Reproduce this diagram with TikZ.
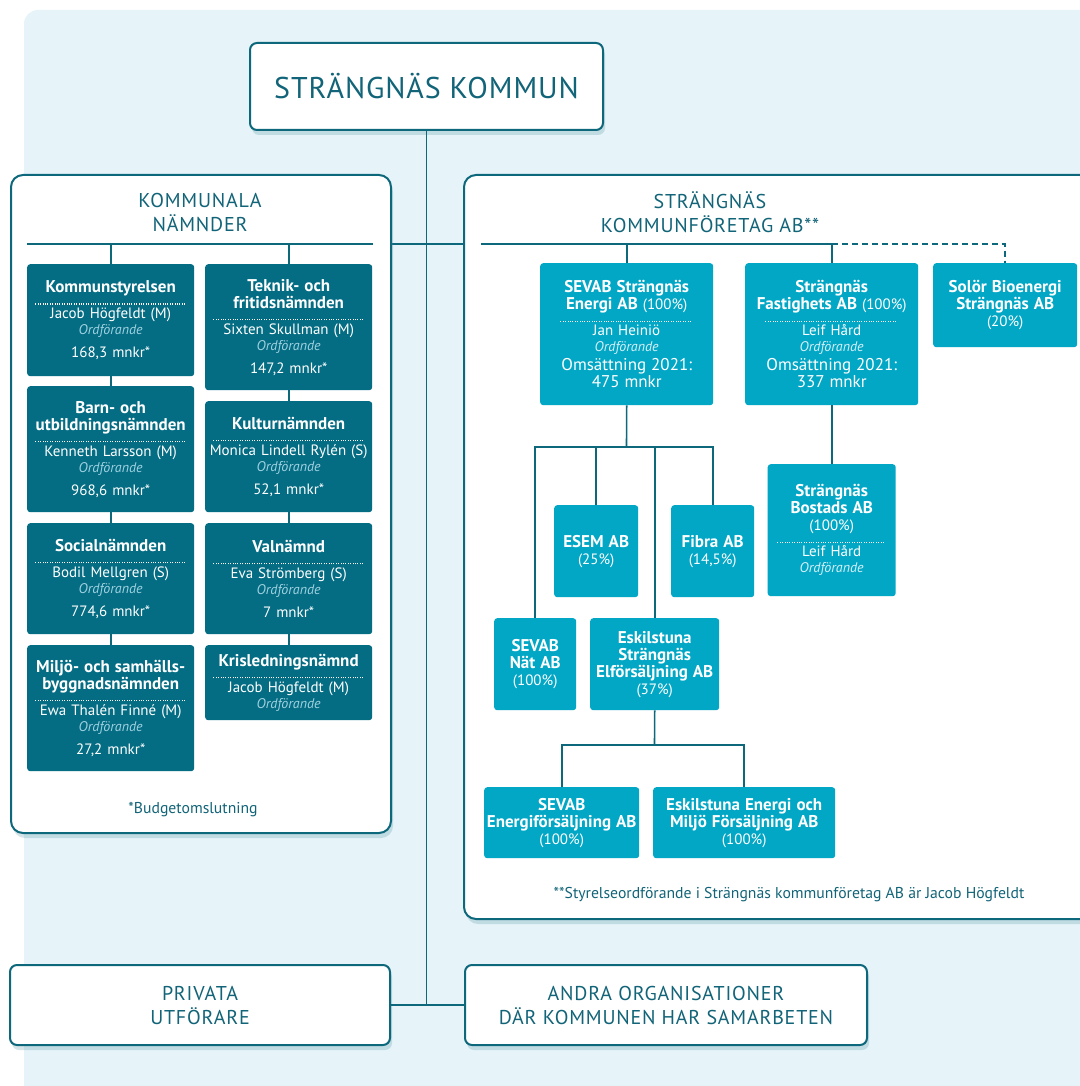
\documentclass[tikz,border=0pt]{standalone}
\usepackage{fontspec}
\setmainfont{PT Sans}
\usetikzlibrary{shadows}

\definecolor{bgblue}{RGB}{230,243,249}
\definecolor{linec}{RGB}{14,104,124}
\definecolor{nteal}{RGB}{4,108,131}
\definecolor{fteal}{RGB}{2,167,198}
\definecolor{ordc}{RGB}{160,210,225}
\definecolor{ordl}{RGB}{215,240,246}
\definecolor{txt}{RGB}{18,100,120}

\newcommand{\boxfont}{\fontsize{15}{17}\selectfont}
\newcommand{\head}[1]{{\fontsize{17}{17}\selectfont\textbf{#1}}}
\newcommand{\ordf}{{\itshape\color{ordc}\fontsize{14}{17}\selectfont Ordförande}}
\newcommand{\ordfl}{{\itshape\color{ordl}\fontsize{14}{17}\selectfont Ordförande}}
\newcommand{\dotrule}[1][152pt]{\leavevmode\hbox to #1{\leaders\hbox to 2.4pt{\hss\rule{1.1pt}{1.1pt}\hss}\hfill}}
\newcommand{\caps}{\addfontfeature{LetterSpace=4}}

\tikzset{
    link/.style={draw=linec, line width=1.6pt}, % the connecting lines
    panel/.style={draw=linec, line width=2pt, fill=white, rounded corners=12pt, anchor=north west,
        drop shadow={shadow xshift=2pt, shadow yshift=-5pt, opacity=.25, fill=linec!70}}, % white frames
    whitebox/.style={panel, rounded corners=7pt, anchor=center, align=center, text=txt}, % white boxes with a title
    nbox/.style={fill=nteal, text=white, rounded corners=3pt, anchor=north west, align=center,
        text width=160pt, inner xsep=3.5pt, inner ysep=3pt, font=\boxfont}, % boards
    fbox/.style={fill=fteal, text=white, rounded corners=3pt, anchor=north west, align=center,
        inner xsep=1pt, inner ysep=3pt, font=\boxfont}, % companies
    titlefont/.style={font=\fontsize{20}{24}\selectfont\caps},
    note/.style={text=txt, font=\fontsize{15.7}{17}\selectfont},
}

\begin{document}
\begin{tikzpicture}[x=1pt, y=-1pt]
\useasboundingbox (0,0) rectangle (1079,1086);
\fill[white] (0,0) rectangle (1079,1086);
\fill[bgblue, rounded corners=14pt] (24,10) rectangle (1110,1110);

% top level
\node[whitebox, minimum width=353pt, minimum height=87pt, font=\fontsize{30}{36}\selectfont\addfontfeature{LetterSpace=3}] (kommun) at (426.5,86.5) {STRÄNGNÄS KOMMUN};
\node[whitebox, titlefont, minimum width=380pt, minimum height=80pt] (privat) at (200,1005) {PRIVATA\\UTFÖRARE};
\node[whitebox, titlefont, minimum width=402pt, minimum height=80pt] (andra) at (666,1005) {ANDRA ORGANISATIONER\\DÄR KOMMUNEN HAR SAMARBETEN};
\draw[link] (kommun.south) -- (kommun.south |- privat.east);
\draw[link] (privat.east) -- (andra.west);
\draw[link] (390,244) -- (463,244);

% frames
\node[panel, minimum width=380pt, minimum height=658pt] (namnder) at (10,174) {};
\node[panel, minimum width=640pt, minimum height=744pt] (bolag) at (463,174) {};
\node[text=txt, align=center, titlefont] (namndtitle) at (200,212) {KOMMUNALA\\NÄMNDER};
\node[text=txt, align=center, titlefont] (bolagtitle) at (710,212) {STRÄNGNÄS\\KOMMUNFÖRETAG AB**};

% nämnder
\coordinate (nL) at (27,244);
\coordinate (nR) at (373,244);
\draw[link] (nL) -- (nR);

\node[nbox, minimum height=112pt] (ks) at (27,264) {\head{Kommunstyrelsen}\\[-5pt]\dotrule\\[-3pt]Jacob Högfeldt (M)\\[-1pt]\ordf\\[6pt]168,3 mnkr*};
\node[nbox, minimum height=126pt] (bu) at (27,386) {\head{Barn- och}\\\head{utbildningsnämnden}\\[-5pt]\dotrule\\[-3pt]Kenneth Larsson (M)\\[-1pt]\ordf\\[6pt]968,6 mnkr*};
\node[nbox, minimum height=111pt] (soc) at (27,523) {\head{Socialnämnden}\\[-5pt]\dotrule\\[-3pt]Bodil Mellgren (S)\\[-1pt]\ordf\\[6pt]774,6 mnkr*};
\node[nbox, minimum height=126pt] (msb) at (27,645) {\head{Miljö- och samhälls-}\\\head{byggnadsnämnden}\\[-5pt]\dotrule\\[-3pt]Ewa Thalén Finné (M)\\[-1pt]\ordf\\[6pt]27,2 mnkr*};

\node[nbox, minimum height=126pt] (tek) at (205,264) {\head{Teknik- och}\\\head{fritidsnämnden}\\[-5pt]\dotrule\\[-3pt]Sixten Skullman (M)\\[-1pt]\ordf\\[6pt]147,2 mnkr*};
\node[nbox, minimum height=111pt] (kul) at (205,401) {\head{Kulturnämnden}\\[-5pt]\dotrule\\[-3pt]Monica Lindell Rylén (S)\\[-1pt]\ordf\\[6pt]52,1 mnkr*};
\node[nbox, minimum height=111pt] (val) at (205,523) {\head{Valnämnd}\\[-5pt]\dotrule\\[-3pt]Eva Strömberg (S)\\[-1pt]\ordf\\[6pt]7 mnkr*};
\node[nbox, minimum height=75pt] (kris) at (205,645) {\head{Krisledningsnämnd}\\[-5pt]\dotrule\\[-3pt]Jacob Högfeldt (M)\\[-1pt]\ordf};

\draw[link] (ks.north) -- (ks.north |- nL);
\draw[link] (tek.north) -- (tek.north |- nR);
\draw[link] (ks) -- (bu) (bu) -- (soc) (soc) -- (msb);
\draw[link] (tek) -- (kul) (kul) -- (val) (val) -- (kris);
\node[note] (budget) at (193,810) {*Budgetomslutning};

% bolag
\node[fbox, text width=171pt, minimum height=142pt] (sevab) at (540,263) {\head{SEVAB Strängnäs}\\\head{Energi AB} (100\%)\\[-5pt]\dotrule[134pt]\\[-3pt]Jan Heiniö\\[-1pt]\ordfl\\[1pt]{\fontsize{17}{18}\selectfont Omsättning 2021:\\475 mnkr}};
\node[fbox, text width=171pt, minimum height=142pt] (fast) at (745,263) {\head{Strängnäs}\\\head{Fastighets AB} (100\%)\\[-5pt]\dotrule[134pt]\\[-3pt]Leif Hård\\[-1pt]\ordfl\\[1pt]{\fontsize{17}{18}\selectfont Omsättning 2021:\\337 mnkr}};
\node[fbox, text width=142pt, minimum height=84pt] (solor) at (933,263) {\head{Solör Bioenergi}\\\head{Strängnäs AB}\\(20\%)};
\node[fbox, text width=82pt, minimum height=92pt] (esem) at (554,505) {\head{ESEM AB}\\(25\%)};
\node[fbox, text width=81pt, minimum height=92pt] (fibra) at (671,505) {\head{Fibra AB}\\(14,5\%)};
\node[fbox, text width=126pt, minimum height=132pt] (bostad) at (767.5,464) {\head{Strängnäs}\\\head{Bostads AB}\\(100\%)\\[-5pt]\dotrule[110pt]\\[-3pt]Leif Hård\\[-1pt]\ordfl};
\node[fbox, text width=80pt, minimum height=92pt] (nat) at (494,618) {\head{SEVAB}\\\head{Nät AB}\\(100\%)};
\node[fbox, text width=127pt, minimum height=92pt] (elf) at (590,618) {\head{Eskilstuna}\\\head{Strängnäs}\\\head{Elförsäljning AB}\\(37\%)};
\node[fbox, text width=153pt, minimum height=71pt] (esf) at (484,787) {\head{SEVAB}\\\head{Energiförsäljning AB}\\(100\%)};
\node[fbox, text width=180pt, minimum height=71pt] (eem) at (653,787) {\head{Eskilstuna Energi och}\\\head{Miljö Försäljning AB}\\(100\%)};

\coordinate (bL) at (481,244);
\coordinate (bM) at (fast.north |- bL);
\coordinate (bR) at (solor.north |- bL);
\draw[link] (bL) -- (bM);
\draw[link, dash pattern=on 6pt off 4pt] (bM) -- (bR) -- (solor.north);
\draw[link] (sevab.north) -- (sevab.north |- bL);
\draw[link] (fast.north) -- (bM);
\draw[link] (fast) -- (bostad);

\coordinate (sj) at (626.5,447);
\draw[link] (sevab.south) -- (sj);
\draw[link] (nat.north) |- (sj) -| (fibra.north);
\draw[link] (esem.north) -- (esem.north |- sj);
\draw[link] (elf.north) -- (elf.north |- sj);

\coordinate (ej) at (654.5,745);
\draw[link] (elf.south) -- (ej);
\draw[link] (esf.north) |- (ej) -| (eem.north);

\node[note] (styrelse) at (789,895) {**Styrelseordförande i Strängnäs kommunföretag AB är Jacob Högfeldt};
\end{tikzpicture}
\end{document}
